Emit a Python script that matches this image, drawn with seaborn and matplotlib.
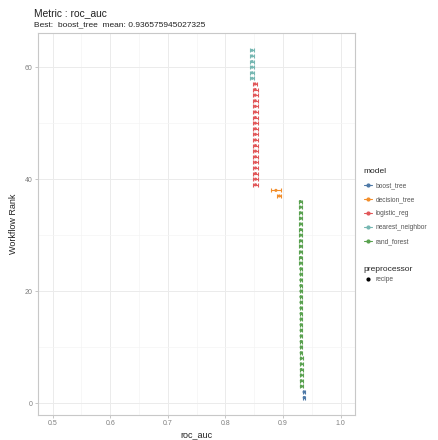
import numpy as np
import pandas as pd
import seaborn as sns
import matplotlib.pyplot as plt
from matplotlib.lines import Line2D

# ranked workflow results (roc_auc)
boost_rank = [1, 2]
boost_mean = [0.9366, 0.9364]
boost_err = [0.0022, 0.0022]

rf_rank = list(range(3, 37))
rf_mean = [0.9318, 0.9317, 0.9316, 0.9316, 0.9315, 0.9315, 0.9314, 0.9314, 0.9313, 0.9313,
           0.9312, 0.9312, 0.9311, 0.9311, 0.9310, 0.9310, 0.9309, 0.9309, 0.9308, 0.9308,
           0.9307, 0.9307, 0.9306, 0.9306, 0.9305, 0.9305, 0.9304, 0.9304, 0.9303, 0.9303,
           0.9302, 0.9302, 0.9301, 0.9300]
rf_err = [0.0022] * 34

dt_rank = [37, 38]
dt_mean = [0.8935, 0.8875]
dt_err = [0.0035, 0.0090]

lr_rank = list(range(39, 58))
lr_mean = [0.8522, 0.8522, 0.8521, 0.8521, 0.8521, 0.8520, 0.8520, 0.8520, 0.8519, 0.8519,
           0.8519, 0.8518, 0.8518, 0.8518, 0.8517, 0.8517, 0.8516, 0.8516, 0.8515]
lr_err = [0.0040] * 19

nn_rank = [58, 59, 60, 61, 62, 63]
nn_mean = [0.8465, 0.8464, 0.8463, 0.8462, 0.8461, 0.8460]
nn_err = [0.0035] * 6

models = ["boost_tree", "decision_tree", "logistic_reg", "nearest_neighbor", "rand_forest"]
colors = ["#4E79A7", "#F28E2B", "#E15759", "#76B7B2", "#59A14F"]

df = pd.concat([
    pd.DataFrame({"rank": boost_rank, "mean": boost_mean, "err": boost_err, "model": "boost_tree"}),
    pd.DataFrame({"rank": dt_rank, "mean": dt_mean, "err": dt_err, "model": "decision_tree"}),
    pd.DataFrame({"rank": lr_rank, "mean": lr_mean, "err": lr_err, "model": "logistic_reg"}),
    pd.DataFrame({"rank": nn_rank, "mean": nn_mean, "err": nn_err, "model": "nearest_neighbor"}),
    pd.DataFrame({"rank": rf_rank, "mean": rf_mean, "err": rf_err, "model": "rand_forest"}),
])

sns.set_theme(style="white")
plt.rcParams["font.family"] = ["Liberation Sans", "DejaVu Sans"]

fig = plt.figure(figsize=(4.39, 4.40), dpi=100)
ax = fig.add_axes([0.087, 0.057, 0.722, 0.868])

pal = dict(zip(models, colors))
for m in models:
    d = df[df["model"] == m]
    ax.errorbar(d["mean"], d["rank"], xerr=d["err"], fmt="none", ecolor=pal[m],
                elinewidth=0.8, capsize=1.3, capthick=0.8, zorder=3)
sns.scatterplot(data=df, x="mean", y="rank", hue="model", palette=pal, s=5,
                marker="o", edgecolor="none", legend=False, ax=ax, zorder=4)

ax.set_xlim(0.475, 1.025)
ax.set_ylim(-2.1, 66.1)
ax.set_xticks([0.5, 0.6, 0.7, 0.8, 0.9, 1.0])
ax.set_xticklabels(["0.5", "0.6", "0.7", "0.8", "0.9", "1.0"])
ax.set_yticks([0, 20, 40, 60])
ax.set_xticks([0.55, 0.65, 0.75, 0.85, 0.95], minor=True)
ax.set_yticks([10, 30, 50], minor=True)
ax.grid(True, which="major", color="#EBEBEB", linewidth=0.7)
ax.grid(True, which="minor", color="#F4F4F4", linewidth=0.5)
ax.set_axisbelow(True)
for s in ax.spines.values():
    s.set_color("#C8C8C8")
    s.set_linewidth(0.8)
ax.tick_params(axis="both", which="major", length=2, width=0.6, color="#BDBDBD",
               labelsize=5, labelcolor="#7F7F7F", pad=2, bottom=True, left=True)
ax.tick_params(axis="both", which="minor", length=0)
ax.set_xlabel("roc_auc", fontsize=6.5, color="#222222", labelpad=2)
ax.set_ylabel("Workflow Rank", fontsize=6.5, color="#222222", labelpad=5)

fig.text(0.077, 0.971, "Metric : roc_auc", fontsize=7.4, color="#222222", va="center")
fig.text(0.077, 0.944, "Best:  boost_tree  mean: 0.936575945027325", fontsize=6.0,
         color="#222222", va="center")

handles = [Line2D([0], [0], color=c, lw=0.8, marker="o", markersize=2) for c in colors]
leg1 = fig.legend(handles, models, title="model", loc="upper left",
                  bbox_to_anchor=(0.815, 0.632), frameon=False, fontsize=4.8,
                  title_fontsize=6, handlelength=1.2, handletextpad=0.6,
                  labelspacing=1.05, alignment="left")
for t in leg1.get_texts():
    t.set_color("#555555")
h2 = [Line2D([0], [0], color="black", lw=0, marker="o", markersize=2)]
leg2 = fig.legend(h2, ["recipe"], title="preprocessor", loc="upper left",
                  bbox_to_anchor=(0.815, 0.41), frameon=False, fontsize=4.8,
                  title_fontsize=6, handlelength=1.2, handletextpad=0.6,
                  alignment="left")
for t in leg2.get_texts():
    t.set_color("#555555")

fig.savefig("out.png", dpi=100)
